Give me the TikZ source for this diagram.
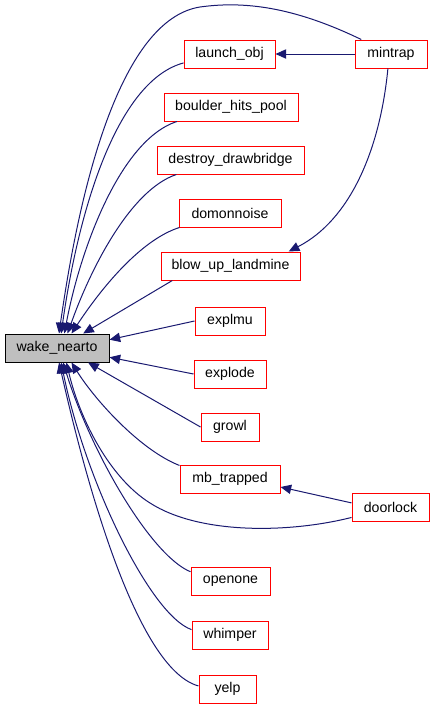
\documentclass[tikz,border=0pt]{standalone}
\usepackage{fontspec}
\setmainfont{Liberation Sans}
\usepackage{xcolor}
\usepackage{tikz}
\usetikzlibrary{arrows.meta}
\definecolor{edgeblue}{HTML}{191970}
\tikzset{
    fn/.style={rectangle, draw=red, line width=0.75pt, minimum height=21pt, inner sep=0pt, text centered, font=\fontsize{10.6}{12}\selectfont},
    root/.style={fn, draw=black, fill=gray!50},
    arrow/.style={edgeblue, line width=0.75pt, -{Triangle[length=8pt,width=7pt]}}
}

\begin{document}
\begin{tikzpicture}[x=0.75pt, y=-0.75pt]
    \useasboundingbox (0,0) rectangle (435,711);
    \node (wake) [root, minimum width=78pt] at (57,348) {wake\_nearto};
    \node (launch) [fn, minimum width=68.25pt] at (229.5,54) {launch\_obj};
    \node (mintrap) [fn, minimum width=54pt] at (391,54) {mintrap};
    \node (boulder) [fn, minimum width=100.5pt] at (231,107) {boulder\_hits\_pool};
    \node (destroy) [fn, minimum width=110.25pt] at (230.5,160) {destroy\_drawbridge};
    \node (domon) [fn, minimum width=76.5pt] at (230,213) {domonnoise};
    \node (blow) [fn, minimum width=104.25pt] at (230.5,266) {blow\_up\_landmine};
    \node (explmu) [fn, minimum width=52.5pt] at (230,321) {explmu};
    \node (explode) [fn, minimum width=54pt] at (230,374) {explode};
    \node (growl) [fn, minimum width=43.5pt] at (230,427) {growl};
    \node (mb) [fn, minimum width=75pt] at (230,479) {mb\_trapped};
    \node (door) [fn, minimum width=57.75pt] at (390.5,507) {doorlock};
    \node (openone) [fn, minimum width=59.25pt] at (230.5,581) {openone};
    \node (whimper) [fn, minimum width=57pt] at (230,635) {whimper};
    \node (yelp) [fn, minimum width=42.75pt] at (227.5,689) {yelp};

    % callers of wake_nearto, top half
    \draw [arrow] (mintrap.154) .. controls (300,10) and (250,0) .. (200,7) .. controls (130,18) and (85,150) .. (wake.82);
    \draw [arrow] (launch.191) .. controls (120,80) and (80,200) .. (wake.74);
    \draw [arrow] (boulder.195) .. controls (120,140) and (80,250) .. (wake.63);
    \draw [arrow] (destroy.195) .. controls (130,190) and (90,270) .. (wake.54);
    \draw [arrow] (domon.196) .. controls (140,240) and (100,290) .. (wake.45);
    \draw [arrow] (blow.194) -- (wake.29);
    \draw [arrow] (explmu.west) -- (wake.9);
    % bottom half
    \draw [arrow] (explode.west) -- (wake.-10);
    \draw [arrow] (growl.west) -- (wake.-25);
    \draw [arrow] (mb.165) .. controls (140,450) and (95,400) .. (wake.-45);
    \draw [arrow] (door.195) .. controls (290,533) and (200,535) .. (150,503) .. controls (110,478) and (80,420) .. (wake.-57);
    \draw [arrow] (openone.167) .. controls (150,555) and (90,450) .. (wake.-67);
    \draw [arrow] (whimper.172) .. controls (150,615) and (85,480) .. (wake.-74);
    \draw [arrow] (yelp.174) .. controls (140,670) and (90,500) .. (wake.-82);

    % second level
    \draw [arrow] (mintrap.west) -- (launch.east);
    \draw [arrow] (mintrap.258) .. controls (380,150) and (350,220) .. (blow.14);
    \draw [arrow] (door.174) -- (mb.-9);
\end{tikzpicture}
\end{document}
